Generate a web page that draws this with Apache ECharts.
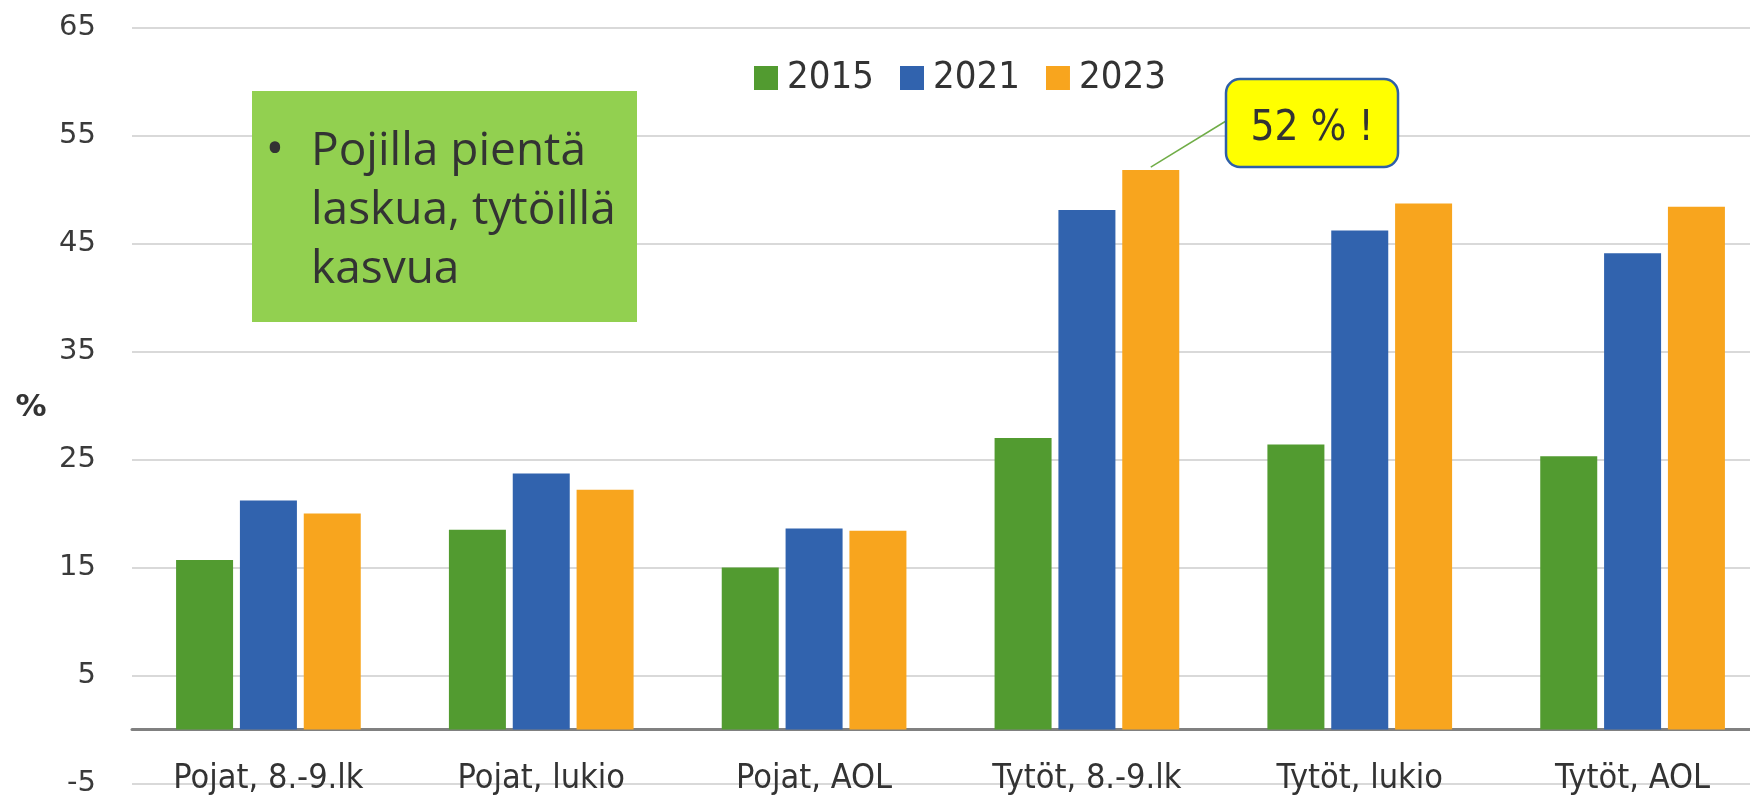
<!DOCTYPE html>
<html>
<head>
<meta charset="utf-8">
<title>Chart</title>
<script src="https://cdn.jsdelivr.net/npm/echarts@6/dist/echarts.min.js"></script>
<style>
  html, body { margin: 0; padding: 0; background: #fff; }
  #chart { width: 1750px; height: 799px; }
</style>
</head>
<body>
<div id="chart"></div>
<script>
// data
const categories = ['Pojat, 8.-9.lk', 'Pojat, lukio', 'Pojat, AOL', 'Tytöt, 8.-9.lk', 'Tytöt, lukio', 'Tytöt, AOL'];
const years = ['2015', '2021', '2023'];
const values2015 = [15.7, 18.5, 15.0, 27.0, 26.4, 25.3];
const values2021 = [21.2, 23.7, 18.6, 48.1, 46.2, 44.1];
const values2023 = [20.0, 22.2, 18.4, 51.8, 48.7, 48.4];
const yTicks = { min: -5, max: 65, interval: 10 };

const colors = ['#529B30', '#3163AE', '#F8A51E'];
const narrow = '"Liberation Sans Narrow", "DejaVu Sans Condensed", Lato, sans-serif';
const barW = 57;
const barGapPct = 12;

let chart = echarts.init(document.getElementById('chart'));

let series = [values2015, values2021, values2023].map(function (vals, i) {
    return {
        name: years[i],
        type: 'bar',
        data: vals,
        barWidth: barW,
        barGap: barGapPct + '%',
        itemStyle: { color: colors[i] }
    };
});

let option = {
    animation: false,
    color: colors,
    grid: { left: 132, right: -19, top: 27.5, bottom: 15.5, containLabel: false, outerBoundsMode: 'none' },
    legend: {
        left: 754,
        top: 59,
        padding: 0,
        itemWidth: 24,
        itemHeight: 24,
        itemGap: 26,
        icon: 'rect',
        data: years,
        textStyle: { fontFamily: narrow, fontSize: 38, color: '#333333', padding: [0, 0, 0, 4] }
    },
    xAxis: {
        type: 'category',
        data: categories,
        axisLine: { onZero: true, lineStyle: { color: '#808080', width: 3 } },
        axisTick: { show: false },
        axisLabel: { fontFamily: narrow, fontSize: 34, color: '#333333', margin: -21 }
    },
    yAxis: {
        type: 'value',
        min: yTicks.min,
        max: yTicks.max,
        interval: yTicks.interval,
        axisLine: { show: false },
        axisTick: { show: false },
        splitLine: { lineStyle: { color: '#D9D9D9', width: 2 } },
        axisLabel: { fontFamily: '"DejaVu Sans", sans-serif', fontSize: 29, color: '#3a3a3a', margin: 36 }
    },
    series: series
};

chart.setOption(option);

// annotations
let peak = chart.convertToPixel({ seriesIndex: 2 }, [3, values2023[3]]);
let barOffset = barW * (1 + barGapPct / 100);
chart.setOption({
    graphic: [
        {
            type: 'rect',
            shape: { x: 252, y: 91, width: 385, height: 231 },
            style: { fill: '#92D050' },
            z: 10
        },
        {
            type: 'text',
            x: 275,
            y: 151,
            style: {
                text: '•',
                font: '50px "Open Sans", sans-serif',
                fill: '#333333',
                align: 'center',
                verticalAlign: 'middle'
            },
            z: 11
        },
        {
            type: 'text',
            x: 311,
            y: 122,
            style: {
                text: 'Pojilla pientä\nlaskua, tytöillä\nkasvua',
                font: '46px "Open Sans", sans-serif',
                lineHeight: 59,
                fill: '#333333'
            },
            z: 11
        },
        {
            type: 'line',
            shape: { x1: peak[0] + barOffset, y1: peak[1] - 3, x2: 1226, y2: 121 },
            style: { stroke: '#70AD47', lineWidth: 1.5 },
            z: 10
        },
        {
            type: 'rect',
            shape: { x: 1226, y: 79, width: 172, height: 88, r: 14 },
            style: { fill: '#FFFF00', stroke: '#2F5FA8', lineWidth: 2.5 },
            z: 11
        },
        {
            type: 'text',
            x: 1312,
            y: 129,
            style: {
                text: '52 % !',
                font: '42px ' + narrow,
                fill: '#333333',
                align: 'center',
                verticalAlign: 'middle'
            },
            z: 12
        },
        {
            type: 'text',
            x: 31,
            y: 408,
            style: {
                text: '%',
                font: 'bold 31px "DejaVu Sans", sans-serif',
                fill: '#333333',
                align: 'center',
                verticalAlign: 'middle'
            },
            z: 10
        }
    ]
});

window.addEventListener('resize', function () {
    chart.resize();
});
</script>
</body>
</html>
